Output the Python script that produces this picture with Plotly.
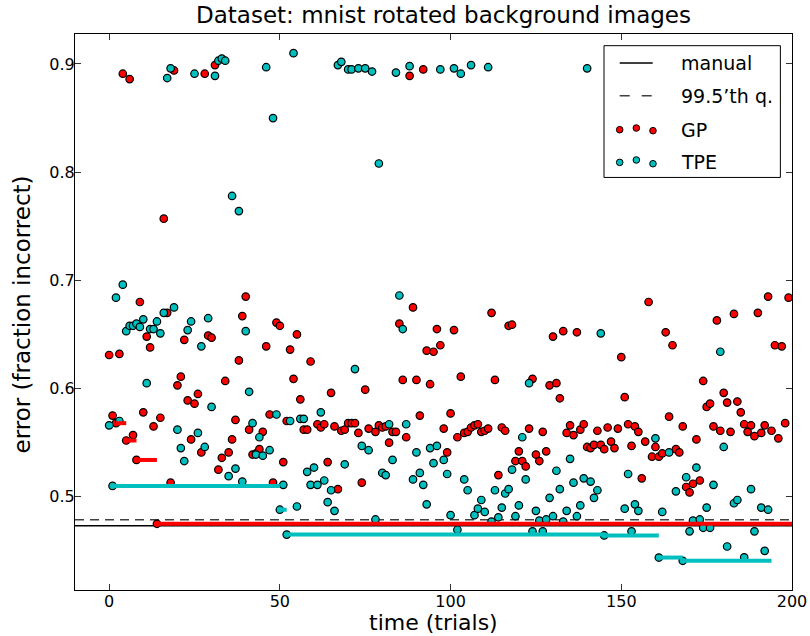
import numpy as np
import plotly.graph_objects as go

# ---------------- data ----------------
TITLE = "Dataset: mnist rotated background images"
X_LABEL = "time (trials)"
Y_LABEL = "error (fraction incorrect)"
X_TICKS = [0, 50, 100, 150, 200]
Y_TICKS = [0.5, 0.6, 0.7, 0.8, 0.9]
LEGEND_LABELS = ["manual", "99.5\u2019th q.", "GP", "TPE"]

MANUAL_ERROR = 0.4732
Q995_ERROR = 0.4788

GP_TRIALS = [
    0, 1, 2, 3, 4, 5, 6, 7, 8, 9, 10, 11, 12, 13, 14, 15, 16, 17, 18, 19,
    20, 21, 22, 23, 24, 25, 26, 27, 28, 29, 30, 31, 32, 33, 34, 35, 36, 37, 38, 39,
    40, 41, 42, 43, 44, 45, 46, 47, 48, 49, 50, 51, 52, 53, 54, 55, 56, 57, 58, 59,
    61, 62, 63, 64, 65, 66, 67, 68, 69, 70, 71, 72, 73, 74, 75, 76, 78, 79,
    80, 81, 82, 83, 84, 85, 86, 87, 88, 89, 90, 91, 92, 93, 94, 95, 96, 97, 98, 99,
    100, 101, 102, 103, 104, 105, 106, 107, 108, 109, 110, 111, 112, 113, 114, 115, 116, 117, 118, 119,
    120, 121, 122, 123, 124, 125, 126, 127, 128, 129, 130, 131, 132, 133, 134, 135, 136, 137, 138, 139,
    140, 141, 142, 143, 144, 145, 146, 147, 148, 149, 150, 151, 152, 153, 154, 155, 156, 157, 158, 159,
    160, 161, 162, 163, 164, 165, 166, 167, 168, 169, 170, 171, 172, 173, 174, 175, 176, 177, 178, 179,
    180, 181, 182, 183, 184, 185, 186, 187, 188, 189, 190, 191, 192, 193, 194, 195, 196, 197, 198, 199,
]
GP_ERROR = [
    0.631, 0.575, 0.568, 0.632, 0.891, 0.552, 0.886, 0.557, 0.534, 0.680,
    0.578, 0.648, 0.638, 0.565, 0.475, 0.573, 0.757, 0.670, 0.513, 0.894,
    0.603, 0.611, 0.645, 0.589, 0.553, 0.586, 0.595, 0.541, 0.891, 0.649,
    0.647, 0.899, 0.525, 0.536, 0.607, 0.541, 0.553, 0.571, 0.626, 0.667,
    0.685, 0.562, 0.539, 0.540, 0.544, 0.560, 0.639, 0.576, 0.513, 0.661,
    0.658, 0.532, 0.570, 0.636, 0.609, 0.650, 0.590, 0.562, 0.562, 0.625,
    0.567, 0.564, 0.567, 0.532, 0.596, 0.565, 0.507, 0.561, 0.562, 0.568,
    0.568, 0.568, 0.559, 0.513, 0.599, 0.563, 0.560, 0.566,
    0.564, 0.565, 0.550, 0.560, 0.560, 0.660, 0.608, 0.555, 0.889, 0.675,
    0.608, 0.575, 0.895, 0.635, 0.604, 0.634, 0.655, 0.640, 0.563, 0.541,
    0.577, 0.654, 0.555, 0.611, 0.559, 0.560, 0.564, 0.566, 0.567, 0.560,
    0.561, 0.563, 0.670, 0.608, 0.520, 0.564, 0.561, 0.658, 0.659, 0.533,
    0.542, 0.533, 0.528, 0.563, 0.609, 0.539, 0.533, 0.560, 0.542, 0.603,
    0.648, 0.605, 0.591, 0.653, 0.559, 0.566, 0.557, 0.652, 0.562, 0.567,
    0.546, 0.545, 0.548, 0.561, 0.548, 0.544, 0.564, 0.551, 0.545, 0.563,
    0.629, 0.592, 0.567, 0.547, 0.565, 0.560, 0.517, 0.551, 0.680, 0.537,
    0.546, 0.537, 0.540, 0.652, 0.574, 0.640, 0.544, 0.541, 0.565, 0.509,
    0.504, 0.512, 0.553, 0.515, 0.607, 0.583, 0.586, 0.565, 0.663, 0.561,
    0.596, 0.587, 0.560, 0.669, 0.588, 0.578, 0.567, 0.560, 0.566, 0.556,
    0.670, 0.559, 0.566, 0.685, 0.561, 0.640, 0.554, 0.639, 0.568, 0.684,
]

TPE_TRIALS = [
    0, 1, 2, 3, 4, 5, 6, 7, 8, 9, 10, 11, 12, 13, 14, 15, 16, 17, 18, 19,
    20, 21, 22, 23, 24, 25, 26, 27, 28, 29, 30, 31, 32, 33, 34, 35, 36, 37, 38, 39,
    40, 41, 42, 43, 44, 45, 46, 47, 48, 49, 50, 51, 52, 53, 54, 55, 56, 57, 58, 59,
    60, 61, 62, 63, 64, 65, 66, 67, 68, 69, 70, 71, 72, 73, 74, 75, 76, 77, 78, 79,
    80, 81, 82, 83, 84, 85, 86, 87, 88, 89, 90, 91, 92, 93, 94, 95, 96, 97, 98, 99,
    100, 101, 102, 103, 104, 105, 106, 107, 108, 109, 110, 111, 112, 113, 114, 115, 116, 117, 118, 119,
    120, 121, 122, 123, 124, 125, 126, 127, 128, 129, 130, 131, 132, 133, 134, 135, 136, 137, 138, 139,
    140, 141, 142, 143, 144, 145, 151, 152, 153, 154, 155,
    160, 161, 162, 164, 166, 168, 169, 170, 171, 172, 173, 174, 175, 176, 177, 179,
    180, 181, 183, 184, 186, 188, 189, 191, 192, 193,
]
TPE_ERROR = [
    0.566, 0.510, 0.684, 0.570, 0.696, 0.653, 0.658, 0.658, 0.660, 0.657,
    0.664, 0.605, 0.655, 0.655, 0.662, 0.651, 0.670, 0.887, 0.896, 0.675,
    0.562, 0.545, 0.533, 0.654, 0.662, 0.891, 0.559, 0.639, 0.546, 0.665,
    0.583, 0.889, 0.903, 0.905, 0.903, 0.519, 0.778, 0.526, 0.764, 0.514,
    0.653, 0.597, 0.568, 0.539, 0.555, 0.538, 0.897, 0.543, 0.850, 0.576,
    0.488, 0.511, 0.465, 0.570, 0.910, 0.491, 0.572, 0.572, 0.523, 0.511,
    0.527, 0.511, 0.578, 0.515, 0.495, 0.506, 0.487, 0.899, 0.902, 0.530,
    0.895, 0.895, 0.618, 0.896, 0.547, 0.896, 0.543, 0.893, 0.479, 0.808,
    0.522, 0.520, 0.567, 0.534, 0.892, 0.686, 0.655, 0.567, 0.898, 0.516,
    0.541, 0.522, 0.511, 0.493, 0.545, 0.531, 0.547, 0.895, 0.534, 0.521,
    0.483, 0.896, 0.4695, 0.891, 0.516, 0.506, 0.899, 0.483, 0.489, 0.497,
    0.486, 0.897, 0.477, 0.506, 0.481, 0.490, 0.503, 0.507, 0.525, 0.482,
    0.492, 0.555, 0.516, 0.605, 0.468, 0.487, 0.478, 0.468, 0.479, 0.499,
    0.482, 0.524, 0.507, 0.477, 0.487, 0.535, 0.513, 0.482, 0.492, 0.517,
    0.896, 0.514, 0.499, 0.506, 0.651, 0.4642, 0.489, 0.521, 0.468, 0.493, 0.487,
    0.554, 0.4438, 0.486, 0.541, 0.505, 0.4408, 0.518, 0.468, 0.478, 0.527,
    0.479, 0.4713, 0.490, 0.4713, 0.511, 0.634,
    0.546, 0.454, 0.494, 0.497, 0.444, 0.507, 0.468, 0.490, 0.450, 0.488,
]

RED = "#ff0000"
CYAN = "#00bfbf"
FONT = "DejaVu Sans"


def best_so_far(trials, errors):
    """Horizontal running-minimum segments (no vertical risers)."""
    t = np.asarray(trials, dtype=float)
    e = np.asarray(errors, dtype=float)
    order = np.argsort(t)
    t, e = t[order], e[order]
    run = np.minimum.accumulate(e)
    ends = np.append(t[1:], t[-1] + 1)
    xs, ys = [], []
    start = t[0]
    for k in range(len(t)):
        if k == len(t) - 1 or run[k + 1] != run[k]:
            xs += [start, ends[k], None]
            ys += [run[k], run[k], None]
            if k < len(t) - 1:
                start = t[k + 1]
    return xs, ys


fig = go.Figure()

marker_line = dict(color="black", width=1.2)
fig.add_trace(go.Scatter(x=GP_TRIALS, y=GP_ERROR, mode="markers", name="GP",
                         marker=dict(color=RED, size=7.5, line=marker_line),
                         showlegend=False))
fig.add_trace(go.Scatter(x=TPE_TRIALS, y=TPE_ERROR, mode="markers", name="TPE",
                         marker=dict(color=CYAN, size=7.5, line=marker_line),
                         showlegend=False))

gx, gy = best_so_far(GP_TRIALS, GP_ERROR)
tx, ty = best_so_far(TPE_TRIALS, TPE_ERROR)
fig.add_trace(go.Scatter(x=gx, y=gy, mode="lines", line=dict(color=RED, width=4),
                         showlegend=False, hoverinfo="skip"))
fig.add_trace(go.Scatter(x=tx, y=ty, mode="lines", line=dict(color=CYAN, width=4),
                         showlegend=False, hoverinfo="skip"))

shapes = [
    dict(type="line", xref="paper", x0=0, x1=1, yref="y", y0=MANUAL_ERROR, y1=MANUAL_ERROR,
         line=dict(color="black", width=1.5), layer="below"),
    dict(type="line", xref="paper", x0=0, x1=1, yref="y", y0=Q995_ERROR, y1=Q995_ERROR,
         line=dict(color="#404040", width=1.5, dash="9px,6px"), layer="below"),
]

# ---- hand-drawn legend (matplotlib style) ----
LX0, LX1, LYT, LYB = 0.7378, 0.9838, 0.979, 0.742
shapes.append(dict(type="rect", xref="paper", yref="paper", x0=LX0, x1=LX1, y0=LYB, y1=LYT,
                   line=dict(color="black", width=1), fillcolor="white", layer="above"))
row_y = [0.9478, 0.8890, 0.8279, 0.7691]
sx0, sx1 = 0.7597, 0.8057
shapes.append(dict(type="line", xref="paper", yref="paper", x0=sx0, x1=sx1, y0=row_y[0], y1=row_y[0],
                   line=dict(color="black", width=1.5), layer="above"))
shapes.append(dict(type="line", xref="paper", yref="paper", x0=sx0, x1=sx1, y0=row_y[1], y1=row_y[1],
                   line=dict(color="#404040", width=1.5, dash="10px,12px"), layer="above"))
dot_x = [0.7597, 0.7829, 0.8061]
gp_dy = [0.0, 0.003, -0.0018]
tpe_dy = [0.0, 0.0043, -0.0024]
for col, ry, dys in ((RED, row_y[2], gp_dy), (CYAN, row_y[3], tpe_dy)):
    for dx, dy in zip(dot_x, dys):
        shapes.append(dict(type="circle", xref="paper", yref="paper",
                           xsizemode="pixel", ysizemode="pixel",
                           xanchor=dx, yanchor=ry + dy, x0=-3.3, x1=3.3, y0=-3.3, y1=3.3,
                           fillcolor=col, line=dict(color="black", width=1), layer="above"))

annotations = []
for lab, ry in zip(LEGEND_LABELS, row_y):
    annotations.append(dict(text=lab, xref="paper", yref="paper", x=0.8424, y=ry,
                            xanchor="left", yanchor="middle", showarrow=False,
                            font=dict(family=FONT, size=19, color="black")))

annotations.append(dict(text=TITLE, xref="paper", yref="paper", x=0.5135, y=1.0347,
                        xanchor="center", yanchor="middle", showarrow=False,
                        font=dict(family=FONT, size=23, color="black")))
annotations.append(dict(text=X_LABEL, xref="paper", yref="paper", x=0.5, y=-0.0592,
                        xanchor="center", yanchor="middle", showarrow=False,
                        font=dict(family=FONT, size=22, color="black")))
annotations.append(dict(text=Y_LABEL, xref="paper", yref="paper", x=-0.0743, y=0.495,
                        xanchor="center", yanchor="middle", showarrow=False, textangle=-90,
                        font=dict(family=FONT, size=23, color="black")))

axis_common = dict(showline=True, linecolor="black", linewidth=1.2, mirror="ticks",
                   ticks="inside", ticklen=6, tickcolor="#333333", tickwidth=1,
                   showgrid=False, zeroline=False, automargin=False,
                   tickfont=dict(family=FONT, size=16, color="black"))

fig.update_layout(
    width=810, height=636, autosize=False,
    margin=dict(l=75, r=18, t=34, b=46, pad=0, autoexpand=False),
    paper_bgcolor="white", plot_bgcolor="white",
    xaxis=dict(range=[-10, 200], tickvals=X_TICKS, ticklabelstandoff=-3, **axis_common),
    yaxis=dict(range=[0.4138, 0.9277], tickvals=Y_TICKS, ticklabelstandoff=-4, **axis_common),
    shapes=shapes, annotations=annotations, showlegend=False,
)

# remove the default 8px page margin so the 810x636 figure fills the window exactly
fig.write_html("out.html",
               config={"displayModeBar": False, "responsive": False},
               post_script="document.body.style.margin='0';document.body.style.overflow='hidden';")
